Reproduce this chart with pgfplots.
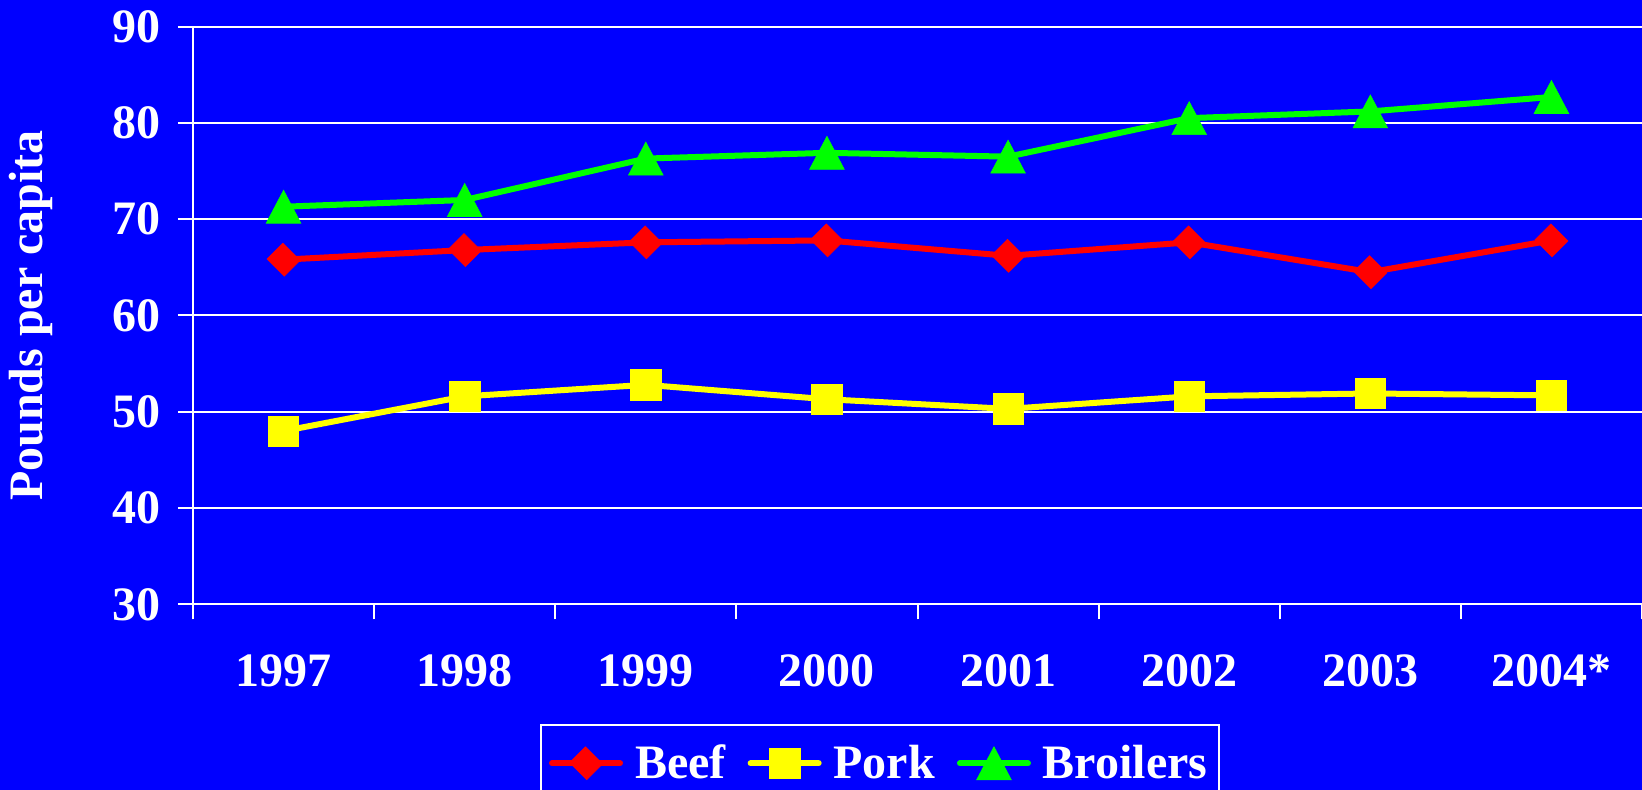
\documentclass[border=0pt]{standalone}
\usepackage{pgfplots}
\pgfplotsset{compat=1.18}
\usepackage{fontspec}
\setmainfont{Liberation Serif}[BoldFont={Liberation Serif Bold}]
\newfontfamily\tnr{Liberation Serif Bold}
\definecolor{bgblue}{RGB}{0,0,255}
\definecolor{cred}{RGB}{255,0,0}
\definecolor{cyel}{RGB}{255,255,0}
\definecolor{cgrn}{RGB}{0,255,0}
\newcommand\bigfont{\fontsize{24}{28}\selectfont\tnr}
\begin{document}
\begin{tikzpicture}
\fill[bgblue] (-96.5pt,-92.85pt) rectangle (724.5pt,302.15pt);
\begin{axis}[
  at={(0,0)}, anchor=south west,
  width=724.5pt, height=288.8pt, scale only axis,
  xmin=-0.5, xmax=7.5, ymin=30, ymax=90,
  xtick={-0.5,0.5,...,7.5},
  x tick label as interval,
  xticklabels={1997,1998,1999,2000,2001,2002,2003,2004*},
  ytick={30,40,...,90},
  axis x line*=bottom, axis y line*=left,
  axis line style={white, line width=1pt, -},
  tick style={white, line width=1pt},
  tick align=outside,
  major tick length=7.5pt,
  ymajorgrids, grid style={white, line width=1pt},
  ticklabel style={font=\bigfont, text=white},
  yticklabel style={xshift=-5pt},
  xticklabel style={yshift=-14pt},
  /pgf/number format/assume math mode=true,
  ylabel={Pounds per capita},
  ylabel style={font=\bigfont, text=white, at={(axis description cs:-0.1118,0.5)}, anchor=center},
  legend columns=-1,
  legend style={at={(axis description cs:0.2395,-0.207)}, anchor=north west,
    draw=white, line width=1pt, fill=bgblue, text=white,
    font=\bigfont, inner ysep=8pt, inner xsep=4pt,
    /tikz/every odd column/.append style={column sep=4pt},
    /tikz/every even column/.append style={column sep=9pt}},
  legend image code/.code={\draw[mark repeat=2,mark phase=2,#1] plot coordinates {(0pt,0pt)(17pt,0pt)(34pt,0pt)};},
  clip=false,
]
\addplot[cred, line width=3pt, line cap=round, mark=square*, mark size=5.6pt, mark options={rotate=45, fill=cred, draw=cred, line width=0.3pt, yscale=1.08}]
  coordinates {(0,65.8)(1,66.8)(2,67.6)(3,67.8)(4,66.2)(5,67.6)(6,64.5)(7,67.8)};
\addlegendentry{Beef}
\addplot[cyel, line width=3pt, line cap=round, mark=square*, mark size=7.6pt, mark options={fill=cyel, draw=cyel, line width=0.3pt}]
  coordinates {(0,48.0)(1,51.6)(2,52.8)(3,51.3)(4,50.3)(5,51.6)(6,51.9)(7,51.7)};
\addlegendentry{Pork}
\addplot[cgrn, line width=3pt, line cap=round, mark=triangle*, mark size=10pt, mark options={fill=cgrn, draw=cgrn, line width=0.3pt, yshift=-2.75pt, yscale=1.1}]
  coordinates {(0,71.3)(1,72.0)(2,76.3)(3,76.9)(4,76.5)(5,80.5)(6,81.2)(7,82.7)};
\addlegendentry{Broilers}
\end{axis}
\pgfresetboundingbox
\useasboundingbox (-96.5pt,-92.85pt) rectangle (724.5pt,302.15pt);
\end{tikzpicture}
\end{document}
